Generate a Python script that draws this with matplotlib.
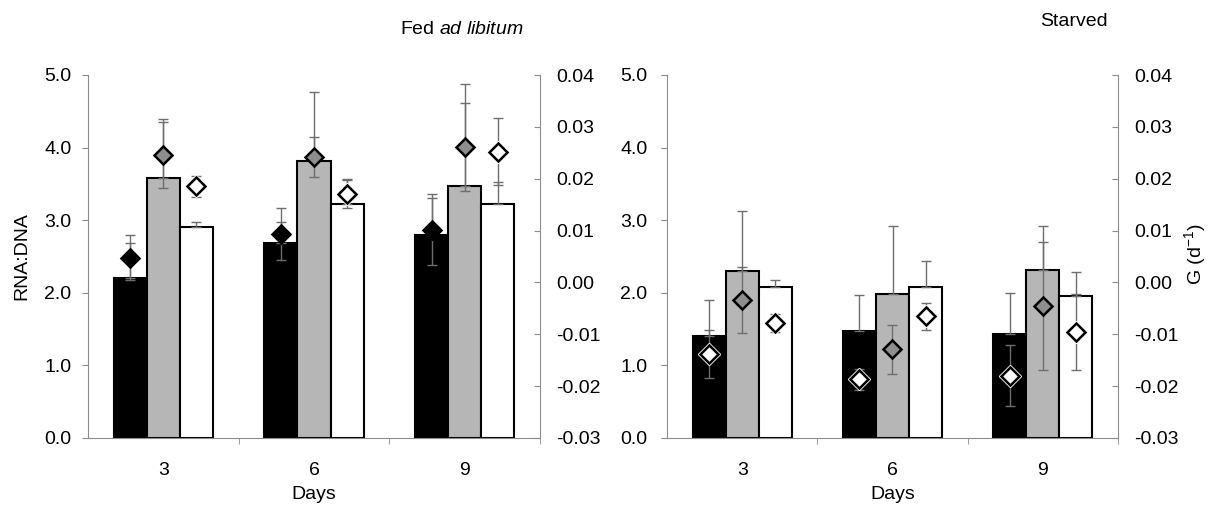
import numpy as np
import matplotlib.pyplot as plt

plt.rcParams['font.family'] = ['Liberation Sans', 'DejaVu Sans']
plt.rcParams['mathtext.fontset'] = 'custom'
plt.rcParams['mathtext.rm'] = 'Liberation Sans'
plt.rcParams['mathtext.it'] = 'Liberation Sans:italic'

days = ["3", "6", "9"]

# RNA:DNA bars (black, grey, white treatments) + upward error
fed_rna_black = [2.21, 2.69, 2.79]
fed_rna_grey = [3.58, 3.82, 3.47]
fed_rna_white = [2.90, 3.22, 3.22]
fed_rna_black_err = [0.47, 0.28, 0.51]
fed_rna_grey_err = [0.82, 0.95, 1.40]
fed_rna_white_err = [0.08, 0.35, 0.30]

starved_rna_black = [1.41, 1.47, 1.43]
starved_rna_grey = [2.30, 1.98, 2.32]
starved_rna_white = [2.08, 2.08, 1.96]
starved_rna_black_err = [0.49, 0.50, 0.57]
starved_rna_grey_err = [0.82, 0.94, 0.60]
starved_rna_white_err = [0.09, 0.36, 0.32]

# growth rate G (diamonds) + symmetric error
fed_g_black = [0.0048, 0.0094, 0.0102]
fed_g_grey = [0.0246, 0.0242, 0.0261]
fed_g_white = [0.0185, 0.0171, 0.0252]
fed_g_black_err = [0.0043, 0.0050, 0.0069]
fed_g_grey_err = [0.0064, 0.0039, 0.0085]
fed_g_white_err = [0.0021, 0.0027, 0.0065]

starved_g_black = [-0.0138, -0.0187, -0.0180]
starved_g_grey = [-0.0034, -0.0129, -0.0045]
starved_g_white = [-0.0078, -0.0065, -0.0096]
starved_g_black_err = [0.0046, 0.0021, 0.0059]
starved_g_grey_err = [0.0063, 0.0047, 0.0123]
starved_g_white_err = [0.0018, 0.0026, 0.0073]

BAR_COLORS = ["black", "#b6b6b6", "white"]
SPINE = "#8c8c8c"
ERR = "#6e6e6e"
FS = 14
W, H = 1216, 505


def draw_panel(ax, rna, rna_err, g, g_err, diamond_fills, ypad):
    x = np.arange(len(days))
    width = 0.22
    offsets = [-width, 0, width]

    for i in range(3):
        ax.bar(x + offsets[i], rna[i], width, color=BAR_COLORS[i], edgecolor="black", linewidth=1.5, zorder=2)
        ax.errorbar(x + offsets[i], rna[i], yerr=[np.zeros(3), rna_err[i]], fmt="none",
                    ecolor=ERR, elinewidth=1, capsize=3.5, capthick=1, zorder=3)

    ax.set_xlim(-0.5, 2.5)
    ax.set_ylim(0, 5)
    ax.set_yticks(np.arange(0, 5.01, 1.0))
    ax.set_yticklabels([f"{v:.1f}" for v in np.arange(0, 5.01, 1.0)])
    ax.set_xticks(x)
    ax.set_xticklabels(days)
    ax.set_xticks([0.5, 1.5, 2.5], minor=True)
    ax.tick_params(axis="x", which="major", length=0, pad=17, labelsize=FS)
    ax.tick_params(axis="x", which="minor", length=4, direction="out", color=SPINE)
    ax.tick_params(axis="y", length=4, direction="out", color=SPINE, pad=ypad, labelsize=FS)
    ax.set_xlabel("Days", fontsize=FS, labelpad=5)
    for s in ["top", "right"]:
        ax.spines[s].set_visible(False)
    for s in ["left", "bottom"]:
        ax.spines[s].set_color(SPINE)

    ax2 = ax.twinx()
    for i in range(3):
        ax2.errorbar(x + offsets[i], g[i], yerr=g_err[i], fmt="none",
                     ecolor=ERR, elinewidth=1, capsize=3.5, capthick=1, zorder=3)
        if diamond_fills[i] == "white":
            # white halo so the outline stays visible on the black bars
            ax2.plot(x + offsets[i], g[i], linestyle="none", marker="D", markersize=11.5,
                     markerfacecolor="white", markeredgecolor="white", zorder=4)
        ax2.plot(x + offsets[i], g[i], linestyle="none", marker="D", markersize=9,
                 markerfacecolor=diamond_fills[i], markeredgecolor="black", markeredgewidth=1.8, zorder=5)
    ax2.set_ylim(-0.03, 0.04)
    gt = np.arange(-0.03, 0.0401, 0.01)
    ax2.set_yticks(gt)
    ax2.set_yticklabels([f"{v:.2f}" if abs(v) > 1e-9 else "0.00" for v in gt])
    ax2.tick_params(axis="y", length=4, direction="in", color=SPINE, pad=11.5, labelsize=FS)
    for s in ["top", "left", "bottom"]:
        ax2.spines[s].set_visible(False)
    ax2.spines["right"].set_color(SPINE)
    return ax2


fig = plt.figure(figsize=(12.16, 5.05), dpi=100)
ax_fed = fig.add_axes([88 / W, 1 - 438 / H, 452 / W, 363 / H])
ax_starved = fig.add_axes([667 / W, 1 - 438 / H, 451 / W, 363 / H])

draw_panel(ax_fed,
           [fed_rna_black, fed_rna_grey, fed_rna_white],
           [fed_rna_black_err, fed_rna_grey_err, fed_rna_white_err],
           [fed_g_black, fed_g_grey, fed_g_white],
           [fed_g_black_err, fed_g_grey_err, fed_g_white_err],
           ["black", "#8e8e8e", "white"], ypad=8)

draw_panel(ax_starved,
           [starved_rna_black, starved_rna_grey, starved_rna_white],
           [starved_rna_black_err, starved_rna_grey_err, starved_rna_white_err],
           [starved_g_black, starved_g_grey, starved_g_white],
           [starved_g_black_err, starved_g_grey_err, starved_g_white_err],
           ["white", "#8e8e8e", "white"], ypad=10)

fig.text(22 / W, 1 - 256 / H, "RNA:DNA", rotation=90, ha="center", va="center", fontsize=FS)
fig.text(1195 / W, 1 - 254 / H, r"G (d$^{-1}$)", rotation=90, ha="center", va="center", fontsize=FS)
fig.text(462 / W, 1 - 30 / H, r"Fed $\it{ad\ libitum}$", ha="center", va="center", fontsize=FS)
fig.text(1074 / W, 1 - 21 / H, "Starved", ha="center", va="center", fontsize=FS)

fig.savefig("out.png", dpi=100)
